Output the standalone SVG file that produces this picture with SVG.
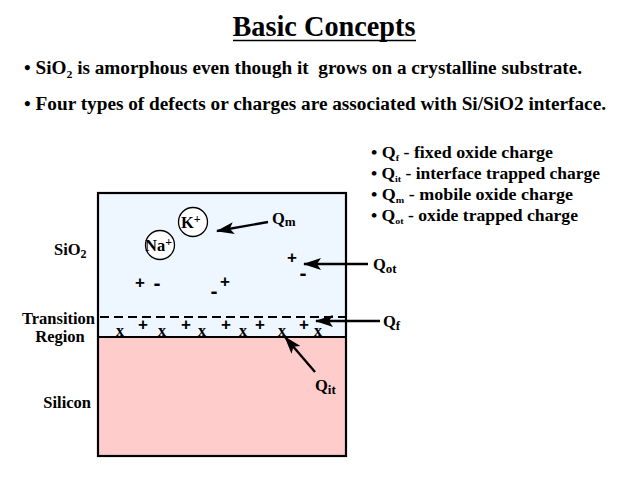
<svg xmlns="http://www.w3.org/2000/svg" width="638" height="479" viewBox="0 0 638 479">
<style>
.t{font-family:"Liberation Serif","Times New Roman",serif;font-weight:bold;fill:#000}
.b{font-family:"Liberation Serif","Times New Roman",serif;font-weight:bold;fill:#000;font-size:18px}
.r{font-family:"Liberation Serif","Times New Roman",serif;font-weight:bold;fill:#000;font-size:16px}
.lab{font-family:"Liberation Serif","Times New Roman",serif;font-weight:bold;fill:#000;font-size:16.5px}
.s{font-family:"Liberation Sans",Arial,sans-serif;font-weight:bold;fill:#000;font-size:17px;text-anchor:middle}
.m{font-family:"Liberation Sans",Arial,sans-serif;font-weight:bold;fill:#000;font-size:21px;text-anchor:middle}
.x{font-family:"Liberation Serif","Times New Roman",serif;font-weight:bold;fill:#000;font-size:16px;text-anchor:middle}
.ln{stroke:#000;stroke-width:2.4;fill:none}
</style>
<defs>
<marker id="ah" markerUnits="userSpaceOnUse" markerWidth="18" markerHeight="12" refX="17" refY="6" orient="auto">
<path d="M0,0 L18,6 L0,12 L4,6 z" fill="#000"/>
</marker>
</defs>
<rect width="638" height="479" fill="#fff"/>
<g id="title">
<text class="t" x="324" y="36" font-size="29" text-anchor="middle" textLength="183" lengthAdjust="spacingAndGlyphs">Basic Concepts</text>
<line x1="233" y1="40.5" x2="416" y2="40.5" stroke="#000" stroke-width="1.6"/>
</g>
<g id="bullets">
<text class="b" x="24" y="74" xml:space="preserve" textLength="558" lengthAdjust="spacingAndGlyphs">• SiO<tspan font-size="11" dy="4">2</tspan><tspan dy="-4"> is amorphous even though it  grows on a crystalline substrate.</tspan></text>
<text class="b" x="24" y="110" textLength="582" lengthAdjust="spacingAndGlyphs">• Four types of defects or charges are associated with Si/SiO2 interface.</text>
</g>
<g id="legend">
<text class="r" x="371" y="158" textLength="182" lengthAdjust="spacingAndGlyphs">• Q<tspan font-size="9" dy="3">f</tspan><tspan dy="-3"> - fixed oxide charge</tspan></text>
<text class="r" x="371" y="179" textLength="229" lengthAdjust="spacingAndGlyphs">• Q<tspan font-size="9" dy="3">it</tspan><tspan dy="-3"> - interface trapped charge</tspan></text>
<text class="r" x="371" y="200" textLength="202" lengthAdjust="spacingAndGlyphs">• Q<tspan font-size="9" dy="3">m</tspan><tspan dy="-3"> - mobile oxide charge</tspan></text>
<text class="r" x="371" y="221" textLength="207" lengthAdjust="spacingAndGlyphs">• Q<tspan font-size="9" dy="3">ot</tspan><tspan dy="-3"> - oxide trapped charge</tspan></text>
</g>
<g id="oxide">
<rect x="98" y="193" width="248" height="144" fill="#eef6ff"/>
</g>
<g id="silicon">
<rect x="98" y="337" width="248" height="119" fill="#ffcccc"/>
</g>
<g id="frame">
<rect x="98" y="193" width="248" height="263" fill="none" stroke="#000" stroke-width="2.2"/>
<line x1="98" y1="337" x2="346" y2="337" stroke="#000" stroke-width="2.2"/>
</g>
<g id="labels">
<text class="lab" x="54" y="255">SiO<tspan font-size="12" dy="3">2</tspan></text>
<text class="lab" x="95" y="324" text-anchor="end">Transition</text>
<text class="lab" x="60" y="342" text-anchor="middle">Region</text>
<text class="lab" x="91" y="408" text-anchor="end">Silicon</text>
</g>
<g id="k-ion">
<circle cx="193" cy="222" r="14.5" fill="#fff" stroke="#000" stroke-width="1.3"/>
<text class="lab" x="181" y="228">K<tspan font-size="12" dy="-5">+</tspan></text>
</g>
<g id="na-ion">
<circle cx="160" cy="245" r="14.5" fill="#fff" stroke="#000" stroke-width="1.3"/>
<text class="lab" x="145" y="251">Na<tspan font-size="12" dy="-5">+</tspan></text>
</g>
<g id="charges">
<text class="s" x="140" y="288">+</text>
<text class="m" x="157" y="290">-</text>
<text class="m" x="214" y="298">-</text>
<text class="s" x="225" y="287">+</text>
<text class="s" x="292" y="263">+</text>
<text class="m" x="303" y="280">-</text>
<line x1="100" y1="317" x2="346" y2="317" stroke="#000" stroke-width="2" stroke-dasharray="9 5"/>
<text class="s" x="143" y="330">+</text>
<text class="s" x="186" y="330">+</text>
<text class="s" x="226" y="330">+</text>
<text class="s" x="260" y="330">+</text>
<text class="s" x="304" y="330">+</text>
<text class="x" x="120" y="336">x</text>
<text class="x" x="162" y="336">x</text>
<text class="x" x="202" y="336">x</text>
<text class="x" x="243" y="336">x</text>
<text class="x" x="282" y="336">x</text>
<text class="x" x="318" y="336">x</text>
</g>
<g id="connectors">
<line class="ln" x1="268" y1="222" x2="217" y2="231" marker-end="url(#ah)"/>
<line class="ln" x1="368" y1="264" x2="304" y2="264" marker-end="url(#ah)"/>
<line class="ln" x1="380" y1="321" x2="316" y2="321" marker-end="url(#ah)"/>
<line class="ln" x1="315" y1="372" x2="285" y2="337" marker-end="url(#ah)"/>
</g>
<g id="q-labels">
<text class="lab" x="272" y="224">Q<tspan font-size="13" dy="2">m</tspan></text>
<text class="lab" x="373" y="270">Q<tspan font-size="13" dy="3">ot</tspan></text>
<text class="lab" x="383" y="327">Q<tspan font-size="13" dy="3">f</tspan></text>
<text class="lab" x="315" y="391">Q<tspan font-size="13" dy="3">it</tspan></text>
</g>
</svg>
